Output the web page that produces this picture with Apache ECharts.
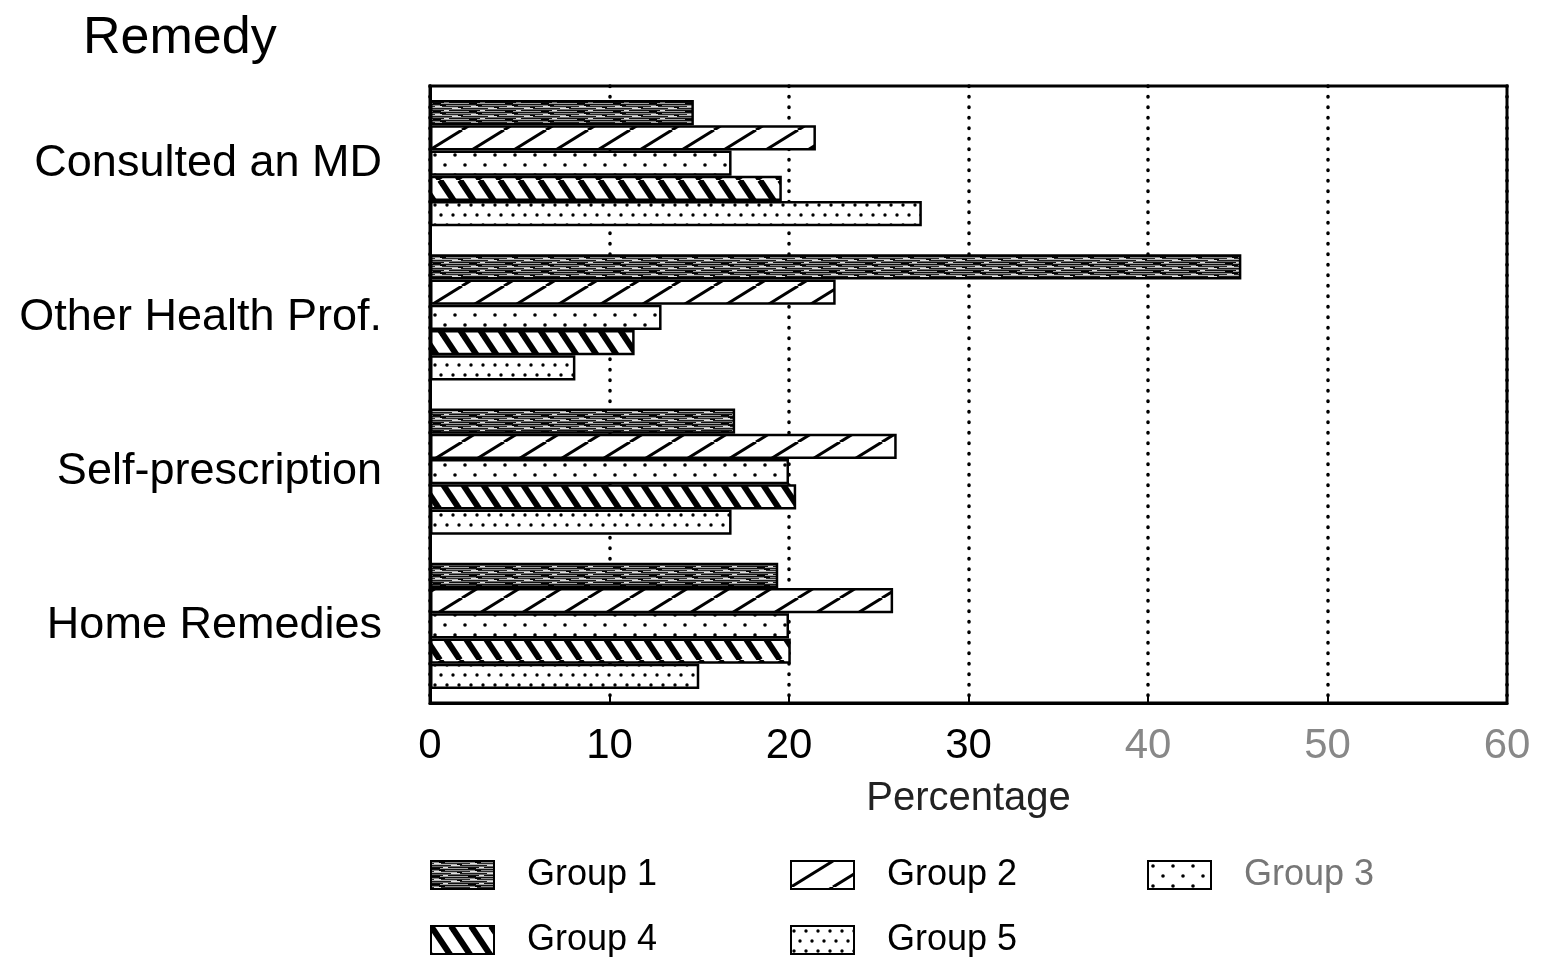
<!DOCTYPE html>
<html>
<head>
<meta charset="utf-8">
<script src="https://cdn.jsdelivr.net/npm/echarts@6/dist/echarts.min.js"></script>
<style>
html,body{margin:0;padding:0;background:#fff;}
#main{width:1543px;height:957px;}
</style>
</head>
<body>
<div id="main"></div>
<script>
var categories = ['Consulted an MD', 'Other Health Prof.', 'Self-prescription', 'Home Remedies'];
var seriesNames = ['Group 1', 'Group 2', 'Group 3', 'Group 4', 'Group 5'];
var group1 = [14.7, 45.2, 17.0, 19.4];
var group2 = [21.5, 22.6, 26.0, 25.8];
var group3 = [16.8, 12.9, 20.0, 20.0];
var group4 = [19.6, 11.4, 20.4, 20.1];
var group5 = [27.4, 8.1, 16.8, 15.0];
var xTicks = [0, 10, 20, 30, 40, 50, 60];

function mk(w, h, draw) {
  var c = document.createElement('canvas');
  c.width = w; c.height = h;
  var g = c.getContext('2d');
  g.fillStyle = '#fff'; g.fillRect(0, 0, w, h);
  draw(g, w, h);
  return { image: c, repeat: 'repeat' };
}
var pat1 = mk(36, 8, function (g, w, h) {
  var rows = ['#111', '#8a8a8a', '#2a2a2a', '#b4b4b4', '#1a1a1a', '#6a6a6a', '#101010', '#a0a0a0'];
  for (var i = 0; i < h; i++) { g.fillStyle = rows[i]; g.fillRect(0, i, w, 1); }
  g.fillStyle = '#e0e0e0';
  g.fillRect(3, 2, 7, 1); g.fillRect(20, 4, 9, 1); g.fillRect(12, 6, 5, 1);
  g.fillStyle = '#000';
  g.fillRect(8, 1, 6, 1); g.fillRect(26, 3, 5, 1); g.fillRect(1, 7, 8, 1);
});
var pat2 = mk(42, 26, function (g, w, h) {
  g.strokeStyle = '#000'; g.lineWidth = 3;
  for (var k = -1; k <= 1; k++) {
    g.beginPath(); g.moveTo(k * w, h); g.lineTo(k * w + w, 0); g.stroke();
  }
});
var pat3 = mk(20, 20, function (g) {
  g.fillStyle = '#000';
  g.beginPath(); g.arc(5, 5, 1.8, 0, Math.PI * 2); g.fill();
  g.beginPath(); g.arc(15, 15, 1.8, 0, Math.PI * 2); g.fill();
});
var pat4 = mk(20, 30, function (g, w, h) {
  g.strokeStyle = '#000'; g.lineWidth = 6;
  for (var k = -1; k <= 1; k++) {
    g.beginPath(); g.moveTo(k * w, 0); g.lineTo(k * w + w, h); g.stroke();
  }
});
var pat5 = mk(12, 20, function (g) {
  g.fillStyle = '#000';
  g.beginPath(); g.arc(3, 5, 1.7, 0, Math.PI * 2); g.fill();
  g.beginPath(); g.arc(9, 15, 1.7, 0, Math.PI * 2); g.fill();
});
var patterns = [pat1, pat2, pat3, pat4, pat5];
var dataSets = [group1, group2, group3, group4, group5];

var FONT = '"Liberation Sans", Arial, sans-serif';
var chart = echarts.init(document.getElementById('main'));

var legendPos = [[430, 857], [790, 857], [1147, 857], [430, 922], [790, 922]];
var legends = seriesNames.map(function (n, i) {
  return {
    data: [n], left: legendPos[i][0], top: legendPos[i][1],
    icon: 'rect',
    itemWidth: 63, itemHeight: 28, padding: 0,
    selectedMode: false,
    textStyle: { fontFamily: FONT, fontSize: 36, color: i === 2 ? '#777' : '#000', padding: [0, 0, 0, 28] }
  };
});

chart.setOption({
  backgroundColor: '#fff',
  animation: false,
  title: {
    text: 'Remedy', left: 78, top: 8,
    textStyle: { fontFamily: FONT, fontSize: 52, fontWeight: 'normal', color: '#000' }
  },
  legend: legends,
  grid: {
    left: 430, top: 86, right: 36, bottom: 254,
    show: true, borderColor: '#000', borderWidth: 3, backgroundColor: 'transparent'
  },
  xAxis: {
    type: 'value', min: 0, max: 60, interval: 10,
    name: 'Percentage', nameLocation: 'middle', nameGap: 76,
    nameTextStyle: { fontFamily: FONT, fontSize: 40, color: '#222' },
    axisLine: { show: true, lineStyle: { color: '#000', width: 3 } },
    axisTick: { show: true, inside: true, length: 8, lineStyle: { color: '#000', width: 2 } },
    axisLabel: {
      fontFamily: FONT, fontSize: 42, margin: 22,
      color: function (v) { return v >= 40 ? '#888' : '#000'; },
      formatter: function (v) { return xTicks.indexOf(v) >= 0 ? String(v) : ''; }
    },
    splitLine: { show: true, lineStyle: { color: '#000', width: 3.5, type: [0.5, 10], cap: 'round' } }
  },
  yAxis: {
    type: 'category', data: categories, inverse: true,
    axisLine: { show: true, lineStyle: { color: '#000', width: 3 } },
    axisTick: { show: false },
    axisLabel: { fontFamily: FONT, fontSize: 45, color: '#000', margin: 48 },
    splitLine: { show: false }
  },
  series: dataSets.map(function (d, i) {
    return {
      name: seriesNames[i], type: 'bar', data: d,
      barGap: '0%', barCategoryGap: '18%',
      itemStyle: { color: patterns[i], borderColor: '#000', borderWidth: 2.5 }
    };
  })
});
</script>
</body>
</html>
